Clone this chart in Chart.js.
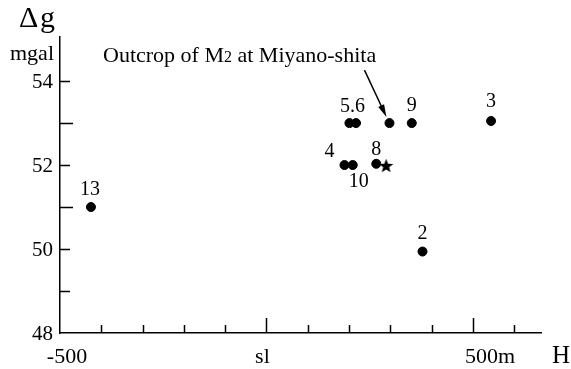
<!DOCTYPE html>
<html>
<head>
<meta charset="utf-8">
<script src="https://cdn.jsdelivr.net/npm/chart.js@4.4.1/dist/chart.umd.min.js"></script>
<style>
  html, body { margin: 0; padding: 0; background: #fff; }
</style>
</head>
<body>
<canvas id="gravity" width="571" height="369"></canvas>
<script>
// station data: height H (m) and gravity anomaly (mgal)
const stations = ['13', '4', '10', '5', '6', '8', '9', '2', '3'];
const heights  = [-425, 189, 209, 201, 217, 266, 352, 378, 544];
const gravity  = [51.0, 52.0, 52.0, 53.0, 53.0, 52.03, 53.0, 49.94, 53.05];

// outcrop of M2 at Miyano-shita
const outcropH = [298];
const outcropG = [53.0];

// star point
const starH = [290];
const starG = [51.99];

// axis ticks and labels
const xTicks = [-400, -300, -200, -100, 0, 100, 200, 300, 400, 500, 600];
const xLabelValues = [-500, 0, 500];
const xLabelTexts = ['-500', 'sl', '500m'];
const yTicks = [49, 50, 51, 52, 53, 54];
const yLabelValues = [48, 50, 52, 54];

const serif = '"Liberation Serif", "Times New Roman", serif';

// filled five point star for the marker
function makeStar(r) {
  const c = document.createElement('canvas');
  c.width = c.height = r * 2 + 2;
  const g = c.getContext('2d');
  g.fillStyle = '#000';
  g.beginPath();
  for (let i = 0; i < 10; i++) {
    const rad = i % 2 === 0 ? r : r * 0.42;
    const a = -Math.PI / 2 + i * Math.PI / 5;
    const px = r + 1 + rad * Math.cos(a);
    const py = r + 1 + rad * Math.sin(a) + 0.8;
    if (i === 0) g.moveTo(px, py); else g.lineTo(px, py);
  }
  g.closePath();
  g.fill();
  return c;
}

// label offsets relative to the station's point
const labelPos = {
  '13': { text: '13', dx: -1, dy: -17 },
  '4':  { text: '4', dx: -15, dy: -13 },
  '10': { text: '10', dx: 6, dy: 17 },
  '5':  { text: '5.6', dx: 3, dy: -16 },
  '8':  { text: '8', dx: 0, dy: -14 },
  '9':  { text: '9', dx: 0, dy: -17 },
  '2':  { text: '2', dx: 0, dy: -18 },
  '3':  { text: '3', dx: 0, dy: -19 }
};

const decorPlugin = {
  id: 'decor',
  afterDatasetsDraw(chart) {
    const ctx = chart.ctx;
    const xs = chart.scales.x;
    const ys = chart.scales.y;
    const left = chart.chartArea.left;
    const bottom = chart.chartArea.bottom;
    ctx.save();
    ctx.strokeStyle = '#000';
    ctx.fillStyle = '#000';
    ctx.lineWidth = 1.5;

    // inward ticks
    ctx.beginPath();
    xTicks.forEach(v => {
      const px = Math.round(xs.getPixelForValue(v)) + 0.5;
      const len = (v === 0 || v === 500) ? 15 : 8;
      ctx.moveTo(px, bottom);
      ctx.lineTo(px, bottom - len);
    });
    yTicks.forEach(v => {
      const py = Math.round(ys.getPixelForValue(v)) + 0.5;
      const len = (v === 51 || v === 53) ? 13 : 10;
      ctx.moveTo(left, py);
      ctx.lineTo(left + len, py);
    });
    ctx.stroke();

    // tick labels
    ctx.font = '22px ' + serif;
    ctx.textBaseline = 'alphabetic';
    xLabelValues.forEach((v, i) => {
      const px = xs.getPixelForValue(v);
      if (i === 2) {
        ctx.textAlign = 'left';
        ctx.fillText(xLabelTexts[i], px - 8, 363);
      } else {
        ctx.textAlign = 'center';
        ctx.fillText(xLabelTexts[i], px + (i === 0 ? 7 : -4), 363);
      }
    });
    ctx.font = '21px ' + serif;
    ctx.textAlign = 'right';
    ctx.textBaseline = 'middle';
    yLabelValues.forEach(v => {
      ctx.fillText(String(v), 53, ys.getPixelForValue(v) + 1);
    });

    // axis titles
    ctx.textBaseline = 'alphabetic';
    ctx.textAlign = 'left';
    ctx.font = '30px ' + serif;
    ctx.fillText('\u0394', 19, 27);
    ctx.fillText('g', 40, 27);
    ctx.font = '22px ' + serif;
    ctx.textAlign = 'right';
    ctx.fillText('mgal', 54, 60);
    ctx.font = '25px ' + serif;
    ctx.textAlign = 'left';
    ctx.fillText('H', 552, 363);

    // station labels
    ctx.font = '20px ' + serif;
    ctx.textAlign = 'center';
    ctx.textBaseline = 'middle';
    stations.forEach((s, i) => {
      const lp = labelPos[s];
      if (!lp) return;
      const px = xs.getPixelForValue(heights[i]);
      const py = ys.getPixelForValue(gravity[i]);
      ctx.fillText(lp.text, px + lp.dx, py + lp.dy);
    });

    // outcrop annotation
    ctx.textAlign = 'left';
    ctx.textBaseline = 'alphabetic';
    let tx = 103;
    const ty = 62;
    ctx.font = '22px ' + serif;
    ctx.fillText('Outcrop of M', tx, ty);
    tx += ctx.measureText('Outcrop of M').width;
    ctx.font = '16px ' + serif;
    ctx.fillText('2', tx, ty);
    tx += ctx.measureText('2').width;
    ctx.font = '22px ' + serif;
    ctx.fillText(' at Miyano-shita', tx, ty);

    // arrow to the outcrop point
    const ox = xs.getPixelForValue(outcropH[0]);
    const oy = ys.getPixelForValue(outcropG[0]);
    const x0 = ox - 25, y0 = oy - 53;
    const x1 = ox - 3, y1 = oy - 6;
    const ang = Math.atan2(y1 - y0, x1 - x0);
    ctx.lineWidth = 1.5;
    ctx.beginPath();
    ctx.moveTo(x0, y0);
    ctx.lineTo(x1 - 10 * Math.cos(ang), y1 - 10 * Math.sin(ang));
    ctx.stroke();
    ctx.beginPath();
    ctx.moveTo(x1, y1);
    ctx.lineTo(x1 - 13 * Math.cos(ang - 0.25), y1 - 13 * Math.sin(ang - 0.25));
    ctx.lineTo(x1 - 13 * Math.cos(ang + 0.25), y1 - 13 * Math.sin(ang + 0.25));
    ctx.closePath();
    ctx.fill();
    ctx.restore();
  }
};

const toPoints = (xa, ya) => xa.map((x, i) => ({ x: x, y: ya[i] }));

const config = {
  type: 'scatter',
  data: {
    datasets: [{
      label: 'Stations',
      data: toPoints(heights, gravity),
      backgroundColor: '#000',
      borderColor: '#000',
      pointRadius: 4.5,
      pointHoverRadius: 4.5
    }, {
      label: 'Outcrop of M2',
      data: toPoints(outcropH, outcropG),
      backgroundColor: '#000',
      borderColor: '#000',
      pointRadius: 4.5,
      pointHoverRadius: 4.5
    }, {
      label: 'Star',
      data: toPoints(starH, starG),
      pointStyle: makeStar(7.5),
      pointRadius: 7.5
    }]
  },
  options: {
    responsive: false,
    animation: false,
    events: [],
    layout: {
      autoPadding: false,
      padding: { left: 60, right: 30, top: 37, bottom: 36 }
    },
    plugins: {
      legend: { display: false },
      tooltip: { enabled: false }
    },
    scales: {
      x: {
        type: 'linear',
        min: -500,
        max: 665,
        ticks: { display: false },
        grid: { display: false, drawTicks: false },
        border: { display: true, color: '#000', width: 1.5 }
      },
      y: {
        type: 'linear',
        min: 48,
        max: 55.05,
        ticks: { display: false },
        grid: { display: false, drawTicks: false },
        border: { display: true, color: '#000', width: 1.5 }
      }
    }
  },
  plugins: [decorPlugin]
};

const gravityChart = new Chart(document.getElementById('gravity'), config);
</script>
</body>
</html>
